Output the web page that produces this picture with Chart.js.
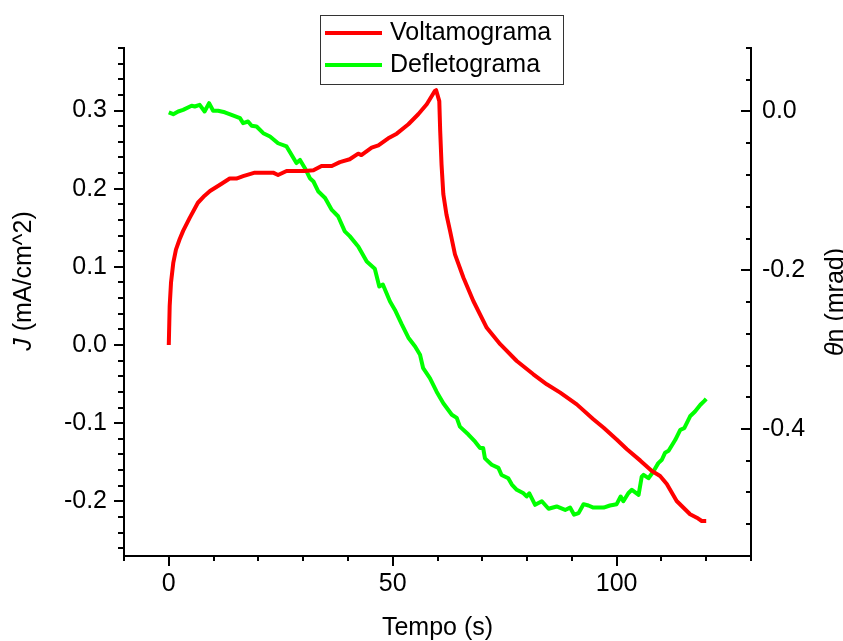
<!DOCTYPE html>
<html lang="pt">
<head>
<meta charset="UTF-8">
<title>Voltamograma e Defletograma</title>
<script src="https://cdn.jsdelivr.net/npm/chart.js"></script>
<style>
  html, body { margin: 0; padding: 0; background: #fff; }
</style>
</head>
<body>
<canvas id="chart" width="843" height="641"></canvas>
<script>
// Voltamograma: current density J (mA/cm^2) vs tempo (s)
const tVolt = [0, 0.2, 0.5, 1.0, 1.6, 2.4, 3.2, 4.7, 6.5, 8.0, 9.2, 11.7, 13.6, 15.1, 16.6, 19.2, 23.3, 24.4, 26.3, 30.4,
  32.3, 34.1, 36.4, 38.2, 40.4, 42.3, 43.0, 45.3, 46.8, 49.0, 50.9, 53.5, 55.7, 57.6, 59.4, 59.7, 60.4, 60.6, 60.9, 61.3,
  62.0, 62.8, 63.9, 65.8, 68.0, 71.0, 74.0, 77.7, 81.4, 84.4, 87.4, 91.1, 94.8, 97.1, 100, 102.3, 105.3, 107.8, 109.7,
  111.2, 113.4, 116.4, 117.9, 119, 120];
const jVolt = [0, 0.05, 0.08, 0.105, 0.122, 0.135, 0.146, 0.163, 0.182, 0.191, 0.197, 0.206, 0.213, 0.213, 0.216, 0.2205,
  0.2205, 0.2175, 0.2226, 0.2226, 0.2235, 0.229, 0.229, 0.234, 0.2376, 0.2448, 0.243, 0.2525, 0.2555, 0.2645, 0.2704,
  0.2824, 0.2952, 0.308, 0.325, 0.326, 0.312, 0.274, 0.231, 0.193, 0.167, 0.146, 0.116, 0.086, 0.0563, 0.022, 0.001,
  -0.0205, -0.0375, -0.0503, -0.061, -0.076, -0.095, -0.106, -0.121, -0.1335, -0.148, -0.161, -0.1676, -0.178, -0.1996,
  -0.2166, -0.221, -0.2252, -0.2252];

// Defletograma: deflection theta_n (mrad) vs tempo (s)
const tDefl = [0, 1.0, 2.1, 3.2, 5.1, 5.8, 6.9, 8.0, 9.0, 9.9, 11, 12.5, 14.0, 15.9, 16.6, 17.7, 18.5, 19.6, 21.1, 22.6,
  24.4, 26.3, 27.4, 28.5, 29.3, 30.4, 31.5, 32.3, 33.4, 34.9, 36.4, 37.8, 39.3, 40.4, 42.3, 44.2, 46.0, 47.0, 47.8, 49.4,
  50.5, 52, 53.5, 55, 56.1, 56.8, 58.3, 59.8, 61.3, 63.2, 64.3, 65.0, 66.9, 68.4, 69.5, 70.2, 70.6, 72.1, 73.6, 74.3,
  75.8, 76.6, 77.7, 79.2, 79.9, 80.5, 81.8, 83.3, 84.8, 86.6, 88.5, 89.6, 90.5, 91.5, 92.6, 93.7, 94.8, 97.1, 98.5, 100,
  100.9, 101.5, 102.6, 103.4, 104.9, 105.6, 106, 107.1, 108.2, 109.3, 110.1, 110.8, 111.6, 113.1, 114.2, 115.1, 116.4,
  117.5, 118.7, 119.6, 120];
const thetaDefl = [-0.001, -0.0034, 0.0, 0.002, 0.0072, 0.0063, 0.0084, 0.0, 0.0105, 0.0009, 0.0009, -0.001, -0.0042,
  -0.0084, -0.0147, -0.0126, -0.018, -0.0189, -0.0273, -0.0315, -0.04, -0.044, -0.0546, -0.065, -0.061, -0.0714, -0.084,
  -0.0882, -0.1008, -0.109, -0.124, -0.132, -0.151, -0.157, -0.170, -0.189, -0.198, -0.2205, -0.218, -0.2394, -0.25,
  -0.268, -0.285, -0.296, -0.3065, -0.3234, -0.336, -0.353, -0.3675, -0.382, -0.386, -0.397, -0.407, -0.416, -0.424,
  -0.424, -0.437, -0.445, -0.449, -0.458, -0.462, -0.470, -0.4766, -0.481, -0.485, -0.481, -0.4955, -0.491, -0.5005,
  -0.4976, -0.502, -0.499, -0.508, -0.506, -0.4947, -0.4964, -0.499, -0.499, -0.4964, -0.4947, -0.485, -0.491, -0.481,
  -0.4766, -0.483, -0.46, -0.4577, -0.462, -0.4535, -0.443, -0.4388, -0.430, -0.4275, -0.4136, -0.401, -0.399, -0.384,
  -0.378, -0.3695, -0.3645, -0.362];

// tick labels
const xTicks = [0, 50, 100];
const jTicks = [-0.2, -0.1, 0.0, 0.1, 0.2, 0.3];
const thetaTicks = [-0.4, -0.2, 0.0];

const FONT = "'Liberation Sans', Arial, sans-serif";
const FS = 25;

const toPoints = (xs, ys) => xs.map((x, i) => ({ x: x, y: ys[i] }));
const setTicks = list => scale => { scale.ticks = list.map(v => ({ value: v })); };

// minor/major tick marks, axis titles and the boxed legend
const decor = {
  id: 'decor',
  afterDraw(chart) {
    const ctx = chart.ctx, a = chart.chartArea;
    const sx = chart.scales.x, sy = chart.scales.y, sy2 = chart.scales.y2;
    ctx.save();
    ctx.strokeStyle = '#000';
    ctx.lineWidth = 2;
    ctx.beginPath();
    for (let i = -1; i <= 13; i++) {
      const p = Math.round(sx.getPixelForValue(i * 10));
      const len = i % 5 === 0 ? 10 : 5;
      ctx.moveTo(p, a.bottom); ctx.lineTo(p, a.bottom + len);
    }
    for (let i = -13; i <= 19; i++) {
      const p = Math.round(sy.getPixelForValue(i * 0.02));
      const len = i % 5 === 0 ? 10 : 6;
      ctx.moveTo(a.left, p); ctx.lineTo(a.left - len, p);
    }
    for (let i = -14; i <= 2; i++) {
      const p = Math.round(sy2.getPixelForValue(i * 0.04));
      const len = i % 5 === 0 ? 10 : 5;
      ctx.moveTo(a.right, p); ctx.lineTo(a.right - len, p);
    }
    ctx.stroke();

    ctx.fillStyle = '#000';
    ctx.textBaseline = 'middle';
    ctx.textAlign = 'center';
    ctx.font = FS + 'px ' + FONT;
    ctx.fillText('Tempo (s)', (a.left + a.right) / 2, 628);

    drawRotated(ctx, 24, 281, [
      { text: 'J', font: 'italic ' + FS + 'px ' + FONT },
      { text: ' (mA/cm^2)', font: FS + 'px ' + FONT }
    ]);
    drawRotated(ctx, 836, 302, [
      { text: 'θ', font: 'italic ' + FS + 'px ' + FONT },
      { text: 'n (mrad)', font: FS + 'px ' + FONT }
    ]);

    // legend box
    ctx.fillStyle = '#fff';
    ctx.fillRect(320.5, 15.5, 243, 69);
    ctx.strokeStyle = '#333';
    ctx.lineWidth = 1;
    ctx.strokeRect(320.5, 15.5, 243, 69);
    chart.data.datasets.forEach((ds, i) => {
      const y = 33 + i * 32;
      ctx.strokeStyle = ds.borderColor;
      ctx.lineWidth = 4;
      ctx.beginPath();
      ctx.moveTo(325, y); ctx.lineTo(382, y);
      ctx.stroke();
      ctx.fillStyle = '#000';
      ctx.textAlign = 'left';
      ctx.font = FS + 'px ' + FONT;
      ctx.fillText(ds.label, 390, y);
    });
    ctx.restore();
  }
};

function drawRotated(ctx, cx, cy, parts) {
  ctx.save();
  ctx.translate(cx, cy);
  ctx.rotate(-Math.PI / 2);
  ctx.textBaseline = 'middle';
  ctx.textAlign = 'left';
  const widths = parts.map(p => { ctx.font = p.font; return ctx.measureText(p.text).width; });
  let x = -widths.reduce((s, w) => s + w, 0) / 2;
  parts.forEach((p, i) => {
    ctx.font = p.font;
    ctx.fillText(p.text, x, 0);
    x += widths[i];
  });
  ctx.restore();
}

const tickFont = { family: FONT, size: FS };
const axisBorder = { display: true, color: '#000', width: 2 };

new Chart(document.getElementById('chart'), {
  type: 'line',
  data: {
    datasets: [{
      label: 'Voltamograma',
      data: toPoints(tVolt, jVolt),
      yAxisID: 'y',
      borderColor: '#ff0000',
      borderWidth: 4,
      pointRadius: 0,
      tension: 0,
      borderJoinStyle: 'round'
    }, {
      label: 'Defletograma',
      data: toPoints(tDefl, thetaDefl),
      yAxisID: 'y2',
      borderColor: '#00ff00',
      borderWidth: 4,
      pointRadius: 0,
      tension: 0,
      borderJoinStyle: 'round'
    }]
  },
  options: {
    responsive: false,
    animation: false,
    layout: { padding: { top: 48, left: 0, right: 0, bottom: 0 } },
    plugins: { legend: { display: false }, tooltip: { enabled: false } },
    scales: {
      x: {
        type: 'linear',
        position: 'bottom',
        min: -10,
        max: 130,
        afterBuildTicks: setTicks(xTicks),
        afterFit: s => { s.height = 85; },
        ticks: { font: tickFont, color: '#000', padding: 13, maxRotation: 0, callback: v => String(v) },
        grid: { display: false, drawTicks: false },
        border: axisBorder
      },
      y: {
        type: 'linear',
        position: 'left',
        min: -0.27,
        max: 0.38,
        afterBuildTicks: setTicks(jTicks),
        afterFit: s => { s.width = 124; },
        ticks: { font: tickFont, color: '#000', padding: 17, callback: v => v.toFixed(1) },
        grid: { display: false, drawTicks: false },
        border: axisBorder
      },
      y2: {
        type: 'linear',
        position: 'right',
        min: -0.56,
        max: 0.08,
        afterBuildTicks: setTicks(thetaTicks),
        afterFit: s => { s.width = 92; },
        ticks: { font: tickFont, color: '#000', padding: 11, callback: v => v.toFixed(1) },
        grid: { display: false, drawTicks: false },
        border: axisBorder
      }
    }
  },
  plugins: [decor]
});
</script>
</body>
</html>
